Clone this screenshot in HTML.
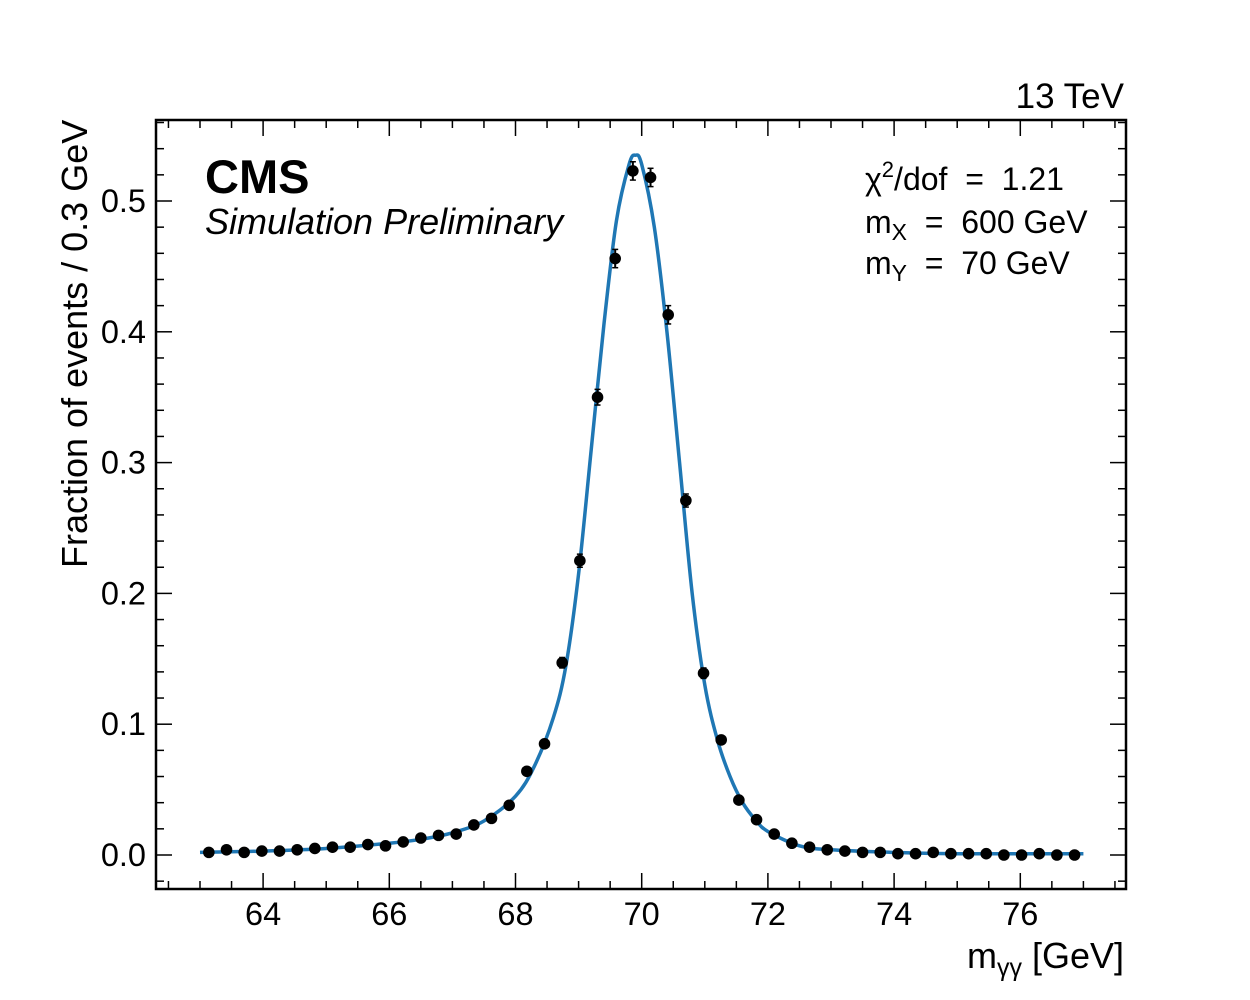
<!DOCTYPE html>
<html><head><meta charset="utf-8"><style>
body{margin:0;background:#fff;}
svg{display:block;font-family:"Liberation Sans",sans-serif;}
</style></head><body>
<svg id="c" width="1250" height="1000" viewBox="0 0 1250 1000"></svg>
<script>
const xTicks=[64,66,68,70,72,74,76];
const yTicks=[0.0,0.1,0.2,0.3,0.4,0.5];
const yTickLabels=["0.0","0.1","0.2","0.3","0.4","0.5"];
const pointX=[63.14,63.42,63.70,63.98,64.26,64.54,64.82,65.10,65.38,65.66,65.94,66.22,66.50,66.78,67.06,67.34,67.62,67.90,68.18,68.46,68.74,69.02,69.30,69.58,69.86,70.14,70.42,70.70,70.98,71.26,71.54,71.82,72.10,72.38,72.66,72.94,73.22,73.50,73.78,74.06,74.34,74.62,74.90,75.18,75.46,75.74,76.02,76.30,76.58,76.86];
const pointY=[0.002,0.004,0.002,0.003,0.003,0.004,0.005,0.006,0.006,0.008,0.007,0.010,0.013,0.015,0.016,0.023,0.028,0.038,0.064,0.085,0.147,0.225,0.350,0.456,0.523,0.518,0.413,0.271,0.139,0.088,0.042,0.027,0.016,0.009,0.006,0.004,0.003,0.002,0.002,0.001,0.001,0.002,0.001,0.001,0.001,0.000,0.000,0.001,0.000,0.000];
const pointErr=[0.001,0.001,0.001,0.001,0.001,0.001,0.001,0.001,0.001,0.001,0.001,0.001,0.001,0.001,0.001,0.002,0.002,0.002,0.003,0.003,0.004,0.005,0.006,0.007,0.007,0.007,0.007,0.005,0.004,0.003,0.002,0.002,0.002,0.001,0.001,0.001,0.001,0.001,0.001,0.001,0.001,0.001,0.001,0.001,0.001,0.001,0.001,0.001,0.001,0.001];
const curveX=[63,64,65,66,66.5,67,67.5,68,68.3,68.6,68.8,69,69.2,69.4,69.6,69.8,69.9,70.0,70.2,70.4,70.6,70.8,71.0,71.2,71.4,71.6,71.8,72,72.5,73,74,75,77];
const curveY=[0.002,0.003,0.005,0.009,0.012,0.017,0.026,0.045,0.068,0.105,0.145,0.215,0.31,0.405,0.485,0.528,0.535,0.528,0.48,0.40,0.30,0.20,0.13,0.088,0.06,0.04,0.027,0.018,0.007,0.004,0.002,0.001,0.001];

const L=156,R=1126,T=120,B=889;
const X=v=>200+(v-63)*63.1;
const Y=v=>855-v*1308;
const svg=document.getElementById('c');
const NS='http://www.w3.org/2000/svg';
function mk(tag,attrs,parent){const e=document.createElementNS(NS,tag);for(const k in attrs)e.setAttribute(k,attrs[k]);(parent||svg).appendChild(e);return e;}

const tg=mk('g',{stroke:'#000','stroke-width':1.5});


for(let v=62.5;v<=77.6;v+=0.5){const x=X(v);if(x<=L||x>=R)continue;const major=Math.abs(v-Math.round(v))<1e-6&&Math.round(v)%2===0;const len=major?16:8;mk('line',{x1:x,x2:x,y1:B,y2:B-len},tg);mk('line',{x1:x,x2:x,y1:T,y2:T+len},tg);}
for(let i=-1;i<=28;i++){const v=i*0.02;const y=Y(v);if(y<=T||y>=B)continue;const major=i%5===0;const len=major?16:8;mk('line',{x1:L,x2:L+len,y1:y,y2:y},tg);mk('line',{x1:R,x2:R-len,y1:y,y2:y},tg);}

xTicks.forEach(v=>{const t=mk('text',{x:X(v),y:925,'font-size':32.5,'text-anchor':'middle'});t.textContent=v;

});
yTicks.forEach((v,i)=>{const t=mk('text',{x:146,y:Y(v)+11,'font-size':32.5,'text-anchor':'end'});t.textContent=yTickLabels[i];

});

const pts=curveX.map((x,i)=>[X(x),Y(curveY[i])]);
let d=`M${pts[0][0]},${pts[0][1]}`;
for(let i=0;i<pts.length-1;i++){const p0=pts[Math.max(0,i-1)],p1=pts[i],p2=pts[i+1],p3=pts[Math.min(pts.length-1,i+2)];
d+=` C${p1[0]+(p2[0]-p0[0])/6},${p1[1]+(p2[1]-p0[1])/6} ${p2[0]-(p3[0]-p1[0])/6},${p2[1]-(p3[1]-p1[1])/6} ${p2[0]},${p2[1]}`;}
const cv=mk('path',{d:d,fill:'none',stroke:'#1f77b4','stroke-width':3.5});



pointX.forEach((x,i)=>{const g=mk('g',{});


const px=X(x),py=Y(pointY[i]),e=pointErr[i]*1308;
mk('line',{x1:px,x2:px,y1:py-e,y2:py+e,stroke:'#000','stroke-width':2},g);
mk('line',{x1:px-3,x2:px+3,y1:py-e,y2:py-e,stroke:'#000','stroke-width':1.5},g);
mk('line',{x1:px-3,x2:px+3,y1:py+e,y2:py+e,stroke:'#000','stroke-width':1.5},g);
mk('circle',{cx:px,cy:py,r:5.8,fill:'#000'},g);});

const fr=mk('rect',{x:L,y:T,width:R-L,height:B-T,fill:'none',stroke:'#000','stroke-width':2.5});


</script>
<svg style="position:absolute;left:0;top:0" width="1250" height="1000">
<text x="1124" y="108" font-size="35" text-anchor="end">13 TeV</text>
<text x="205" y="193" font-size="47" font-weight="bold">CMS</text>
<text x="205" y="234" font-size="36" font-style="italic">Simulation Preliminary</text>
<text x="865" y="190" font-size="32" xml:space="preserve">χ<tspan dy="-13" font-size="22">2</tspan><tspan dy="13">/dof  =  1.21</tspan></text>
<text x="865" y="233" font-size="32" xml:space="preserve">m<tspan dy="7" font-size="23">X</tspan><tspan dy="-7">  =  600 GeV</tspan></text>
<text x="865" y="274" font-size="32" xml:space="preserve">m<tspan dy="7" font-size="23">Y</tspan><tspan dy="-7">  =  70 GeV</tspan></text>
<text x="1124" y="968" font-size="36" text-anchor="end">m<tspan dy="8" font-size="25">γγ</tspan><tspan dy="-8"> [GeV]</tspan></text>
<text transform="translate(87,568) rotate(-90)" font-size="36">Fraction of events / 0.3 GeV</text>
</svg>
</body></html>
